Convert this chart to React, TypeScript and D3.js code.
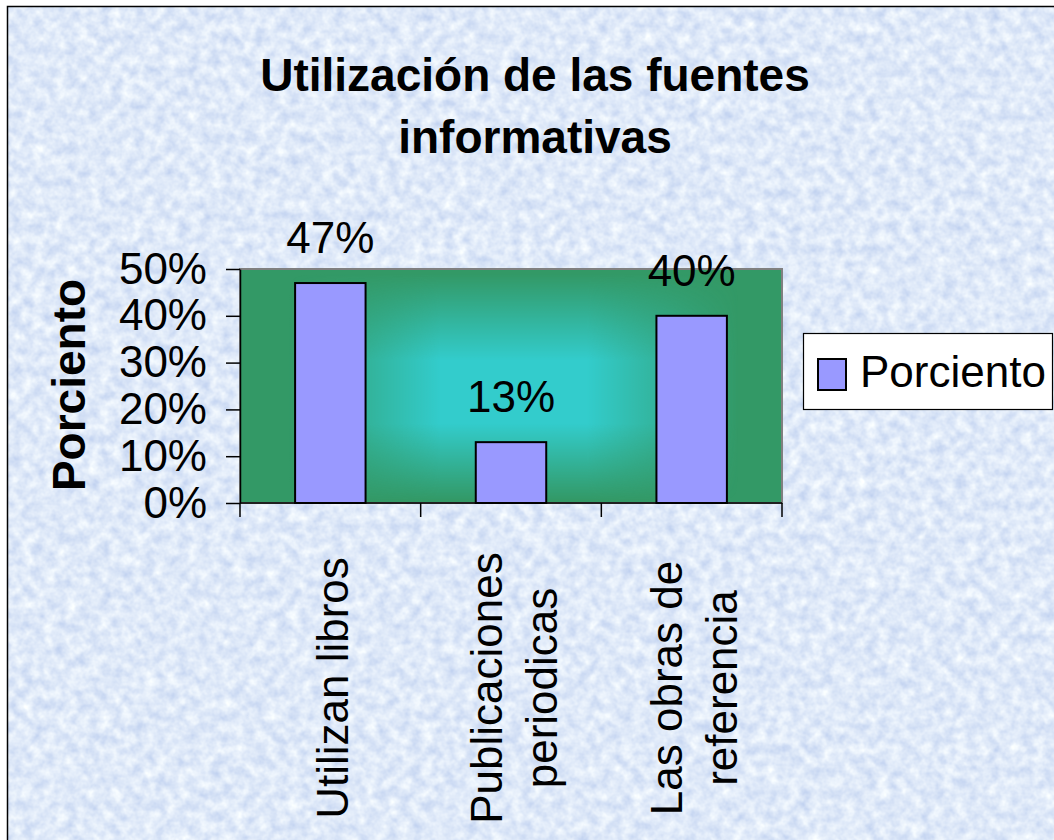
import React, { useEffect, useRef } from 'react';
import * as d3 from 'd3';

// chart data
const categories = ['Utilizan libros', 'Publicaciones periodicas', 'Las obras de referencia'];
const categoryLines = [['Utilizan libros'], ['Publicaciones', 'periodicas'], ['Las obras de', 'referencia']];
const values = [0.47, 0.13, 0.40];
const yTicks = [0, 0.1, 0.2, 0.3, 0.4, 0.5];
const seriesName = 'Porciento';
const titleLines = ['Utilización de las fuentes', 'informativas'];
const yTitle = 'Porciento';

const FONT = '"Liberation Sans", Arial, sans-serif';

export default function App() {
  const svgRef = useRef<SVGSVGElement | null>(null);

  useEffect(() => {
    const width = 1054;
    const height = 840;
    const margin = { top: 269, right: 272, bottom: 337, left: 240 };

    const svg = d3.select(svgRef.current);
    svg.selectAll('*').remove();

    const defs = svg.append('defs');

    // marbled light blue paper background
    const marble = defs.append('filter')
      .attr('id', 'marble')
      .attr('x', 0).attr('y', 0).attr('width', '100%').attr('height', '100%')
      .attr('color-interpolation-filters', 'sRGB');
    marble.append('feTurbulence')
      .attr('type', 'fractalNoise')
      .attr('baseFrequency', 0.09)
      .attr('numOctaves', 3)
      .attr('seed', 7);
    marble.append('feColorMatrix')
      .attr('type', 'matrix')
      .attr('values', [
        '0.28 0 0 0 0.735',
        '0.22 0 0 0 0.805',
        '0.08 0 0 0 0.935',
        '0 0 0 0 1',
      ].join(' '));

    // scales
    const x = d3.scaleBand()
      .domain(categories)
      .range([margin.left, width - margin.right])
      .padding(0);

    const y = d3.scaleLinear()
      .domain([0, 0.5])
      .range([height - margin.bottom, margin.top]);

    const barW = x.bandwidth() * 0.39;
    const [px0, px1] = x.range();
    const py0 = y(0.5);
    const py1 = y(0);

    // plot area "from center" fill: green base with a soft cyan core,
    // made from a horizontal and a vertical ramp mask multiplied together
    const rampH = defs.append('linearGradient')
      .attr('id', 'rampH')
      .attr('gradientUnits', 'userSpaceOnUse')
      .attr('x1', px0).attr('x2', px1).attr('y1', 0).attr('y2', 0);
    [[0.09, '#000'], [0.37, '#fff'], [0.64, '#fff'], [0.92, '#000']].forEach(([o, c]) =>
      rampH.append('stop').attr('offset', o as number).attr('stop-color', c as string));
    const rampV = defs.append('linearGradient')
      .attr('id', 'rampV')
      .attr('gradientUnits', 'userSpaceOnUse')
      .attr('x1', 0).attr('x2', 0).attr('y1', py0).attr('y2', py1);
    [[0.02, '#000'], [0.39, '#fff'], [0.66, '#fff'], [0.99, '#000']].forEach(([o, c]) =>
      rampV.append('stop').attr('offset', o as number).attr('stop-color', c as string));

    const maskH = defs.append('mask')
      .attr('id', 'maskH')
      .attr('maskUnits', 'userSpaceOnUse')
      .attr('x', px0).attr('y', py0).attr('width', px1 - px0).attr('height', py1 - py0);
    maskH.append('rect')
      .attr('x', px0).attr('y', py0).attr('width', px1 - px0).attr('height', py1 - py0)
      .attr('fill', 'url(#rampH)');
    const maskV = defs.append('mask')
      .attr('id', 'maskV')
      .attr('maskUnits', 'userSpaceOnUse')
      .attr('x', px0).attr('y', py0).attr('width', px1 - px0).attr('height', py1 - py0);
    maskV.append('rect')
      .attr('x', px0).attr('y', py0).attr('width', px1 - px0).attr('height', py1 - py0)
      .attr('fill', 'url(#rampV)');

    svg.append('rect')
      .attr('x', 7).attr('y', 6)
      .attr('width', width + 10).attr('height', height + 10)
      .attr('filter', 'url(#marble)');
    svg.append('rect')
      .attr('x', 7.5).attr('y', 6.5)
      .attr('width', width + 10).attr('height', height + 10)
      .attr('fill', 'none')
      .attr('stroke', '#000')
      .attr('stroke-width', 1.5);

    // title
    svg.append('text')
      .attr('x', 535)
      .attr('y', 91)
      .attr('text-anchor', 'middle')
      .style('font-family', FONT)
      .style('font-size', '46px')
      .style('font-weight', 'bold')
      .selectAll('tspan')
      .data(titleLines)
      .join('tspan')
      .attr('x', 535)
      .attr('dy', (d, i) => (i === 0 ? 0 : 62))
      .text(d => d);

    // plot area
    svg.append('rect')
      .attr('x', px0).attr('y', py0)
      .attr('width', px1 - px0).attr('height', py1 - py0)
      .attr('fill', '#339966');
    svg.append('g')
      .attr('mask', 'url(#maskH)')
      .append('rect')
      .attr('x', px0).attr('y', py0)
      .attr('width', px1 - px0).attr('height', py1 - py0)
      .attr('fill', '#33cccc')
      .attr('mask', 'url(#maskV)');
    svg.append('rect')
      .attr('x', px0).attr('y', py0)
      .attr('width', px1 - px0).attr('height', py1 - py0)
      .attr('fill', 'none')
      .attr('stroke', '#808080')
      .attr('stroke-width', 2);

    // bars
    svg.append('g')
      .selectAll('rect')
      .data(values)
      .join('rect')
      .attr('x', (d, i) => x(categories[i])! + x.bandwidth() / 2 - barW / 2)
      .attr('y', d => y(d))
      .attr('width', barW)
      .attr('height', d => y(0) - y(d))
      .attr('fill', '#9999ff')
      .attr('stroke', '#000')
      .attr('stroke-width', 2);

    // value labels
    svg.append('g')
      .selectAll('text')
      .data(values)
      .join('text')
      .attr('x', (d, i) => x(categories[i])! + x.bandwidth() / 2)
      .attr('y', d => y(d) - 30)
      .attr('text-anchor', 'middle')
      .style('font-family', FONT)
      .style('font-size', '44px')
      .text(d => d3.format('.0%')(d));

    // y axis
    const yAxis = svg.append('g')
      .attr('transform', `translate(${margin.left},0)`)
      .call(
        d3.axisLeft(y)
          .tickValues(yTicks)
          .tickFormat(d3.format('.0%') as any)
          .tickSize(14)
          .tickSizeOuter(0)
          .tickPadding(19)
      );
    yAxis.select('.domain').attr('stroke', '#000').attr('stroke-width', 1.5);
    yAxis.selectAll('.tick line').attr('stroke', '#000').attr('stroke-width', 1.5);
    yAxis.selectAll('.tick text')
      .attr('fill', '#000')
      .style('font-family', FONT)
      .style('font-size', '44px');

    // x axis line + category boundary ticks
    const xAxis = svg.append('g');
    xAxis.append('line')
      .attr('x1', px0).attr('x2', px1)
      .attr('y1', y(0)).attr('y2', y(0))
      .attr('stroke', '#000')
      .attr('stroke-width', 1.5);
    const bounds = [...categories.map(c => x(c)!), px1];
    xAxis.selectAll('line.tick')
      .data(bounds)
      .join('line')
      .attr('class', 'tick')
      .attr('x1', d => d).attr('x2', d => d)
      .attr('y1', y(0)).attr('y2', y(0) + 14)
      .attr('stroke', '#000')
      .attr('stroke-width', 1.5);

    // rotated category labels
    const catG = svg.append('g')
      .selectAll('g')
      .data(categories)
      .join('g')
      .attr('transform', d => `translate(${x(d)! + x.bandwidth() / 2 + 18},688) rotate(-90)`);
    catG.append('text')
      .attr('text-anchor', 'middle')
      .style('font-family', FONT)
      .style('font-size', '44px')
      .selectAll('tspan')
      .data((d, i) => categoryLines[i].map((t, j, arr) => ({ t, off: (j - (arr.length - 1) / 2) * 55 })))
      .join('tspan')
      .attr('x', 0)
      .attr('y', d => d.off)
      .text(d => d.t);

    // y axis title
    svg.append('text')
      .attr('transform', `translate(85,385) rotate(-90)`)
      .attr('text-anchor', 'middle')
      .style('font-family', FONT)
      .style('font-size', '46px')
      .style('font-weight', 'bold')
      .text(yTitle);

    // legend
    const legend = svg.append('g').attr('transform', 'translate(803,333)');
    legend.append('rect')
      .attr('x', 0.5).attr('y', 0.5)
      .attr('width', 249).attr('height', 76)
      .attr('fill', '#fff')
      .attr('stroke', '#000')
      .attr('stroke-width', 1.2);
    legend.append('rect')
      .attr('x', 15).attr('y', 26)
      .attr('width', 28).attr('height', 31)
      .attr('fill', '#9999ff')
      .attr('stroke', '#000')
      .attr('stroke-width', 2);
    legend.append('text')
      .attr('x', 57)
      .attr('y', 54)
      .style('font-family', FONT)
      .style('font-size', '44px')
      .text(seriesName);
  }, []);

  return (
    <svg
      ref={svgRef}
      width={1054}
      height={840}
      style={{ position: 'absolute', left: 0, top: 0, display: 'block' }}
    />
  );
}
